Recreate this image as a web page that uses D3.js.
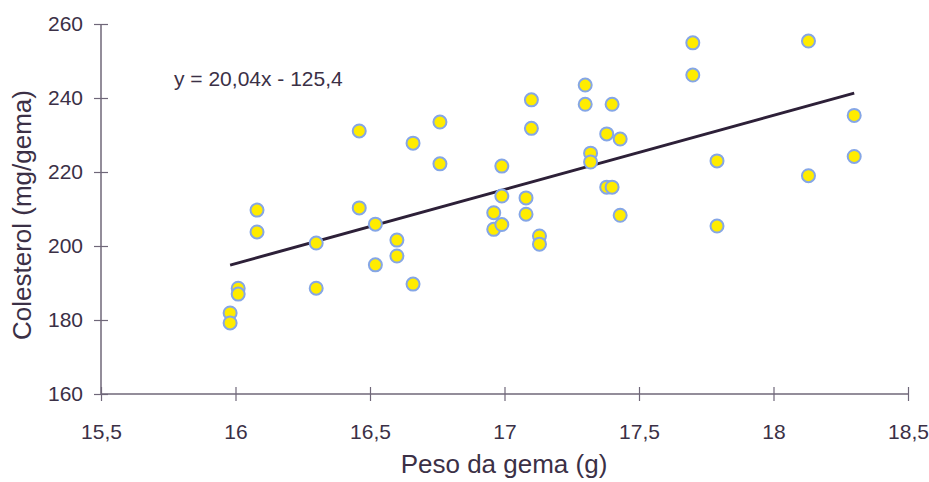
<!DOCTYPE html>
<html>
<head>
<meta charset="utf-8">
<script src="https://cdn.jsdelivr.net/npm/d3@7"></script>
<style>
  body { margin: 0; background: #fff; }
  text { font-family: "Liberation Sans", Arial, sans-serif; fill: #3b3046; }
</style>
</head>
<body>
<svg id="chart" width="929" height="482"></svg>
<script>
// egg yolk weight (g) vs cholesterol (mg/yolk)
var pesoGema = [15.98, 15.98, 16.01, 16.01, 16.08, 16.08, 16.30, 16.30, 16.46, 16.46,
                16.52, 16.52, 16.60, 16.60, 16.66, 16.66, 16.76, 16.76, 16.96, 16.96,
                16.99, 16.99, 16.99, 17.08, 17.08, 17.10, 17.10, 17.13, 17.13, 17.30,
                17.30, 17.32, 17.32, 17.38, 17.38, 17.40, 17.40, 17.43, 17.43, 17.70,
                17.70, 17.79, 17.79, 18.13, 18.13, 18.30, 18.30];
var colesterol = [181.9, 179.2, 188.6, 187.0, 209.7, 203.8, 200.8, 188.6, 231.1, 210.3,
                  205.9, 194.9, 201.6, 197.3, 227.8, 189.7, 233.5, 222.2, 209.0, 204.5,
                  221.6, 213.5, 205.8, 213.0, 208.6, 239.5, 231.8, 202.7, 200.5, 243.5,
                  238.3, 225.1, 222.7, 230.3, 215.9, 238.3, 215.9, 228.9, 208.3, 254.9,
                  246.2, 223.0, 205.4, 255.4, 219.0, 235.3, 224.2];
var xTicks = [15.5, 16, 16.5, 17, 17.5, 18, 18.5];
var yTicks = [160, 180, 200, 220, 240, 260];
var slope = 20.04, intercept = -125.4;
var equationLabel = "y = 20,04x - 125,4";

var svg = d3.select("#chart");
var axisColor = "#6f6779";

var x = d3.scaleLinear().domain([15.5, 18.5]).range([101, 908]);
var y = d3.scaleLinear().domain([160, 260]).range([394, 24]);

var fmt = function(d) { return String(d).replace(".", ","); };

// x axis (ticks cross the line)
var gx = svg.append("g")
  .attr("transform", "translate(0," + y(160) + ")")
  .call(d3.axisBottom(x).tickValues(xTicks).tickFormat(fmt).tickSize(7).tickPadding(23));
gx.select(".domain").remove();
gx.append("line").attr("x1", x.range()[0]).attr("x2", x.range()[1])
  .attr("stroke", axisColor).attr("stroke-width", 1.5);
gx.selectAll(".tick line").attr("y1", -7).attr("stroke", axisColor).attr("stroke-width", 1.2);
gx.selectAll(".tick text").attr("font-size", 21).attr("font-family", null);

// y axis
var gy = svg.append("g")
  .attr("transform", "translate(" + x(15.5) + ",0)")
  .call(d3.axisLeft(y).tickValues(yTicks).tickFormat(fmt).tickSize(7).tickPadding(11));
gy.select(".domain").remove();
gy.append("line").attr("y1", y.range()[0]).attr("y2", y.range()[1])
  .attr("stroke", axisColor).attr("stroke-width", 1.5);
gy.selectAll(".tick line").attr("x1", 7).attr("stroke", axisColor).attr("stroke-width", 1.2);
gy.selectAll(".tick text").attr("font-size", 21).attr("font-family", null);

// trend line over the data range
var xMin = d3.min(pesoGema), xMax = d3.max(pesoGema);
svg.append("line")
  .attr("x1", x(xMin)).attr("y1", y(slope * xMin + intercept))
  .attr("x2", x(xMax)).attr("y2", y(slope * xMax + intercept))
  .attr("stroke", "#2d2038").attr("stroke-width", 3);

// points
svg.selectAll(".pt")
  .data(d3.zip(pesoGema, colesterol))
  .enter()
  .append("circle")
  .attr("class", "pt")
  .attr("cx", function(d) { return x(d[0]); })
  .attr("cy", function(d) { return y(d[1]); })
  .attr("r", 6.5)
  .attr("fill", "#ffec00")
  .attr("stroke", "#85a6e6")
  .attr("stroke-width", 2);

// equation
svg.append("text")
  .attr("x", 174).attr("y", 86)
  .attr("font-size", 21)
  .text(equationLabel);

// axis titles
svg.append("text")
  .attr("x", 504).attr("y", 473)
  .attr("text-anchor", "middle")
  .attr("font-size", 26)
  .text("Peso da gema (g)");

svg.append("text")
  .attr("transform", "translate(31,215) rotate(-90)")
  .attr("text-anchor", "middle")
  .attr("font-size", 26)
  .text("Colesterol (mg/gema)");
</script>
</body>
</html>
